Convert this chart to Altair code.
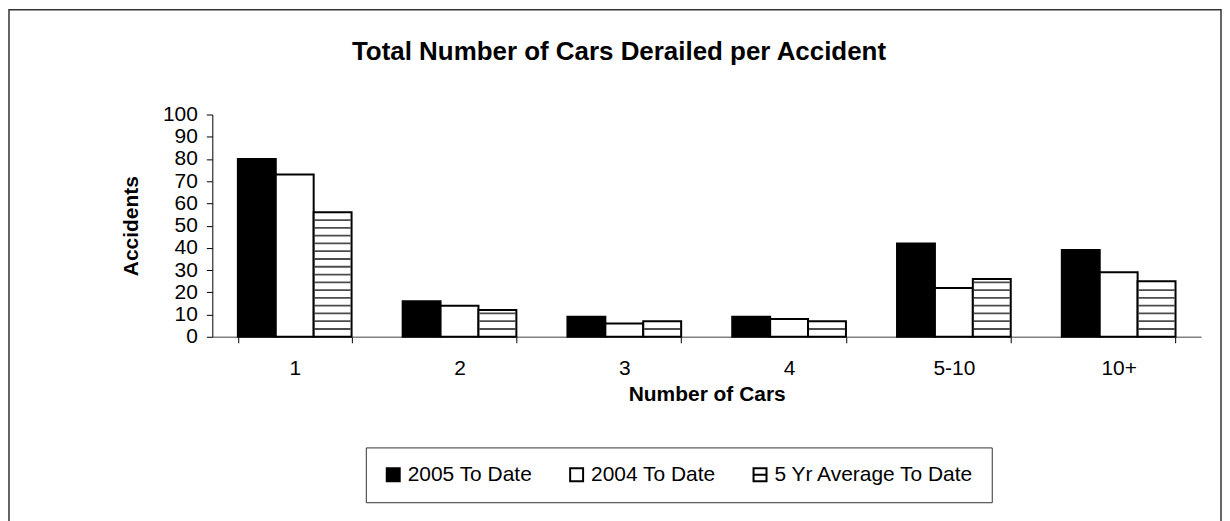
import altair as alt
import pandas as pd

# ---------------- data ----------------
title_text = "Total Number of Cars Derailed per Accident"
categories = ["1", "2", "3", "4", "5-10", "10+"]
series_names = ["2005 To Date", "2004 To Date", "5 Yr Average To Date"]
values_2005 = [80, 16, 9, 9, 42, 39]
values_2004 = [73, 14, 6, 8, 22, 29]
values_5yr = [56, 12, 7, 7, 26, 25]
y_ticks = [0, 10, 20, 30, 40, 50, 60, 70, 80, 90, 100]
x_title = "Number of Cars"
y_title = "Accidents"

# ---------------- styles ----------------
FONT = "Liberation Sans"
series_fill = ["#000000", "#ffffff", "#ffffff"]
series_stroke = ["#000000", "#000000", "#000000"]
hatch_symbol = "M-1,-1H1V1H-1Z M-1,0H1"
series_shape = ["square", "square", hatch_symbol]
HATCH_STEP = 3.5  # spacing of the horizontal hatch pattern (decoration)

rows = []
for name, vals in zip(series_names, [values_2005, values_2004, values_5yr]):
    for c, v in zip(categories, vals):
        rows.append({"cat": c, "series": name, "value": v})
df = pd.DataFrame(rows)

# horizontal hatch lines for the 5 Yr Average bars (pattern fill)
hatch_rows = []
for c, v in zip(categories, values_5yr):
    k = 1
    while k * HATCH_STEP < v - 0.8:
        hatch_rows.append({"cat": c, "series": series_names[2], "value": k * HATCH_STEP})
        k += 1
hatch_df = pd.DataFrame(hatch_rows)

x_enc = alt.X(
    "cat:N",
    sort=categories,
    scale=alt.Scale(domain=categories, paddingInner=0.31, paddingOuter=0.155),
    axis=alt.Axis(
        title=x_title, labelAngle=0, tickBand="extent", tickSize=6,
        tickColor="#000000", tickWidth=1, domainColor="#808080", domainWidth=1.5,
        labelFont=FONT, labelFontSize=21, labelColor="black", labelPadding=15,
        titleFont=FONT, titleFontSize=21, titleFontWeight="bold",
        titleColor="black", titlePadding=5,
    ),
)
xo_enc = alt.XOffset(
    "series:N", sort=series_names,
    scale=alt.Scale(domain=series_names, paddingInner=0, paddingOuter=0),
)
y_enc = alt.Y(
    "value:Q",
    scale=alt.Scale(domain=[0, 100], nice=False),
    axis=alt.Axis(
        title=y_title, values=y_ticks, grid=False, tickSize=6,
        tickColor="#000000", domainColor="#000000", domainWidth=1,
        labelFont=FONT, labelFontSize=21, labelColor="black", labelPadding=9,
        titleFont=FONT, titleFontSize=21, titleFontWeight="bold",
        titleColor="black", titlePadding=21,
    ),
)

fill_scale = alt.Scale(domain=series_names, range=series_fill)
stroke_scale = alt.Scale(domain=series_names, range=series_stroke)
shape_scale = alt.Scale(domain=series_names, range=series_shape)

legend_def = alt.Legend(
    title=None, orient="none", legendX=154, legendY=334,
    direction="horizontal", columns=3, strokeColor="#333333", padding=17,
    symbolSize=169, symbolStrokeWidth=2,
    symbolOpacity=1, labelFont=FONT, labelFontSize=21, labelColor="black",
    labelOffset=4, columnPadding=34, labelLimit=400,
)

# outer frame of the chart (decoration)
frame = alt.Chart(pd.DataFrame({"k": [0]})).mark_rect(
    fillOpacity=0, stroke="#333333", strokeWidth=1.5
).encode(
    x=alt.value(-204), x2=alt.value(1012), y=alt.value(-105), y2=alt.value(417)
)

# invisible points that carry the legend (fill + stroke + shape)
legend_pts = alt.Chart(df).mark_point(
    filled=True, opacity=0, strokeWidth=2
).encode(
    x=x_enc, xOffset=xo_enc, y=y_enc,
    fill=alt.Fill("series:N", scale=fill_scale, legend=legend_def),
    stroke=alt.Stroke("series:N", scale=stroke_scale, legend=legend_def),
    shape=alt.Shape("series:N", scale=shape_scale, legend=legend_def),
)

bars = alt.Chart(df).mark_bar(stroke="black", strokeWidth=2).encode(
    x=x_enc, xOffset=xo_enc, y=y_enc,
    fill=alt.Fill("series:N", scale=fill_scale, legend=None),
)

hatch = alt.Chart(hatch_df).mark_tick(
    orient="horizontal", color="black", thickness=1.8, size=36
).encode(x=x_enc, xOffset=xo_enc, y=y_enc)

title = alt.Chart(pd.DataFrame({"label": [title_text]})).mark_text(
    font=FONT, fontSize=26, fontWeight="bold", align="center",
    baseline="alphabetic", color="black"
).encode(text="label:N", x=alt.value(408), y=alt.value(-55))

chart = alt.layer(frame, legend_pts, bars, hatch, title).properties(
    width=992, height=223, padding=0, background="white"
).configure_view(strokeWidth=0)

chart.save("out.html", embed_options={"renderer": "svg", "actions": False})
